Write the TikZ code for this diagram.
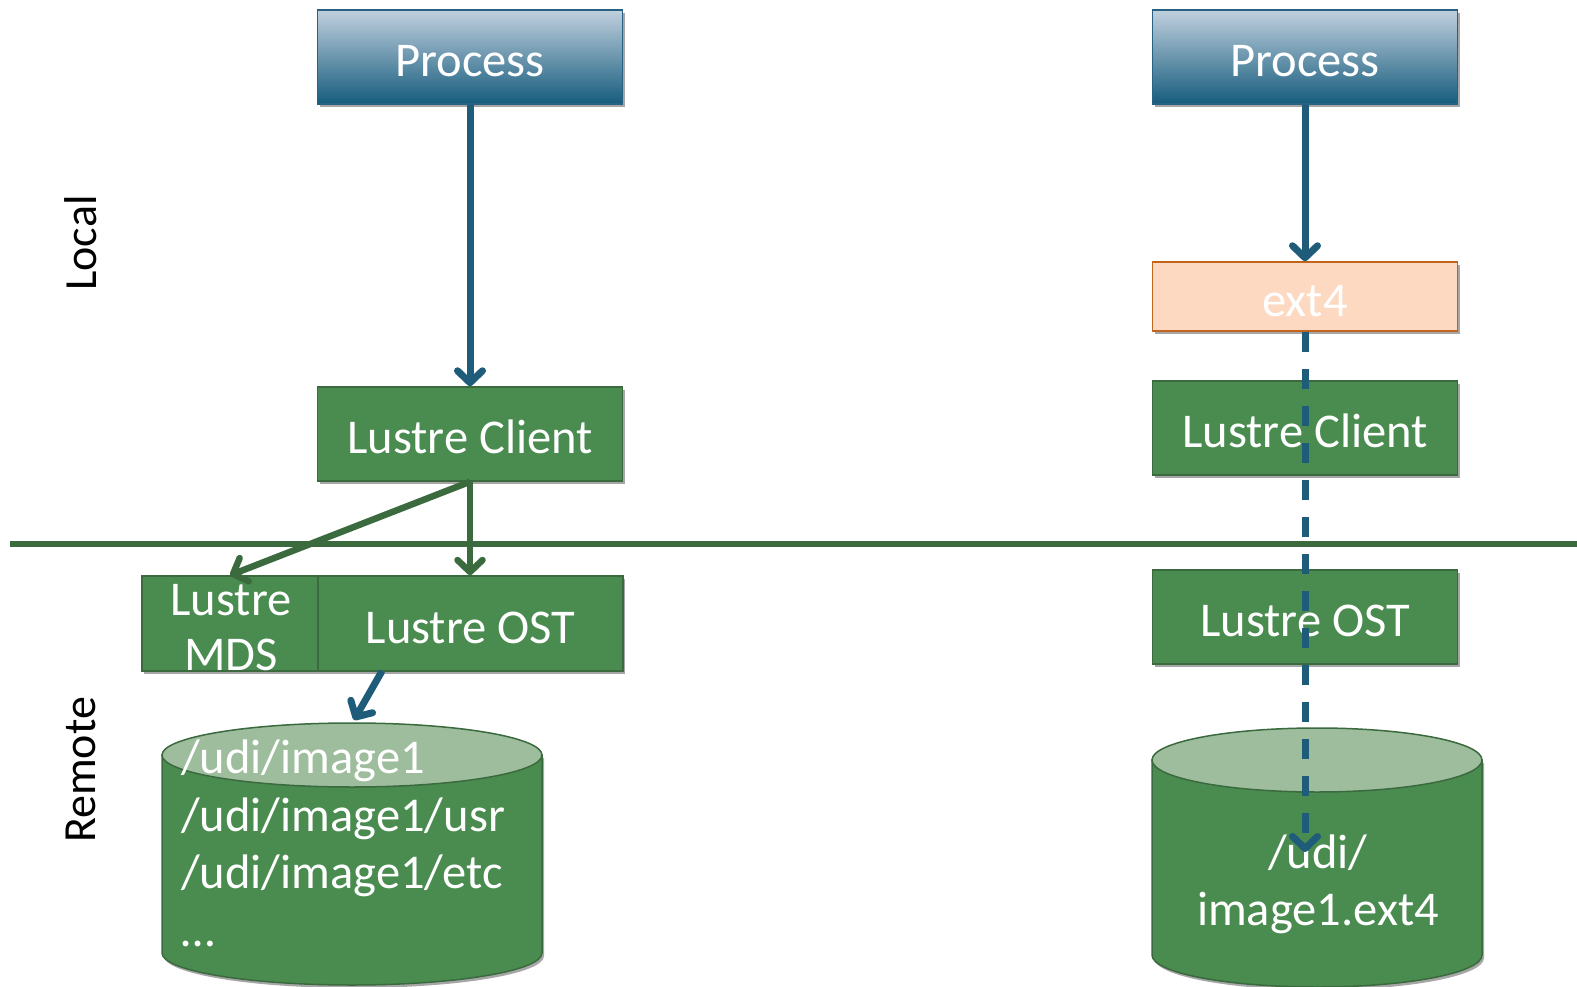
\documentclass[tikz,border=0pt]{standalone}
\usepackage{fontspec}
\setmainfont{Carlito}
\usetikzlibrary{arrows.meta,shadows}
\definecolor{procedge}{RGB}{40,98,130}
\definecolor{proctop}{RGB}{192,208,222}
\definecolor{procbot}{RGB}{22,92,125}
\definecolor{boxgreen}{RGB}{74,140,80}
\definecolor{greenedge}{RGB}{58,106,62}
\definecolor{lightgreen}{RGB}{157,189,157}
\definecolor{peach}{RGB}{253,217,193}
\definecolor{peachedge}{RGB}{192,100,30}
\definecolor{arrowblue}{RGB}{30,92,122}
\begin{document}
\begin{tikzpicture}[x=1pt,y=-1pt,
  shad/.style={drop shadow={shadow xshift=2pt,shadow yshift=-3pt,opacity=0.35,fill=black}},
  bigfont/.style={font=\fontsize{48.5}{58}\selectfont},
  boxtext/.style={bigfont,text height=39pt,text depth=0pt,inner sep=0pt,text=white},
  procbox/.style={shad,draw=procedge,line width=1.5pt,top color=proctop,bottom color=procbot,
    minimum width=305pt,minimum height=94pt,boxtext},
  greenbox/.style={shad,draw=greenedge,line width=1.5pt,fill=boxgreen,
    minimum width=305pt,minimum height=94pt,boxtext},
  peachbox/.style={shad,draw=peachedge,line width=1.5pt,fill=peach,
    minimum width=305pt,minimum height=69pt,boxtext},
  lbl/.style={text=white,bigfont,inner sep=0pt},
  side/.style={text=black,font=\fontsize{46}{56}\selectfont,rotate=90,inner sep=0pt},
  tip/.style={-{Straight Barb[length=12pt,width=25pt,round]}},
  bluearrow/.style={tip,draw=arrowblue,line width=7pt},
  greenarrow/.style={tip,draw=greenedge,line width=6.5pt},
  dasharrow/.style={tip,draw=arrowblue,line width=7pt,dash pattern=on 20pt off 17pt},
  cylbody/.style={fill=boxgreen,draw=greenedge,line width=1.5pt,shad},
  cyltop/.style={fill=lightgreen,draw=greenedge,line width=1.5pt}
]
\useasboundingbox (0,0) rectangle (1577,987);

% separator line
\coordinate (hl) at (10,544);
\coordinate (hr) at (1577,544);
\draw[greenedge,line width=6pt] (hl) -- (hr);

% side labels
\node[side] (local) at (81,243) {Local};
\node[side] (remote) at (81,770) {Remote};

% left column
\node[procbox] (p1) at (470,57) {Process};
\node[greenbox] (lc1) at (470,434) {Lustre Client};
\node[greenbox,minimum width=176pt,minimum height=95pt] (mds) at (230,623.5) {};
\node[lbl,align=center,font=\fontsize{48.5}{55}\selectfont] (mdst) at (231,628) {Lustre\\MDS};
\node[greenbox,minimum width=305pt,minimum height=95pt] (ost1) at (470.5,623.5) {Lustre OST};

% left cylinder
\path[cylbody] (162,755) -- (162,953) arc[start angle=180,end angle=360,x radius=190pt,y radius=32pt] -- (542,755) -- cycle;
\path[cyltop] (352,755) ellipse [x radius=190pt,y radius=32pt];
\node[lbl,align=left,anchor=north west,font=\fontsize{48.5}{57.5}\selectfont] (cyl1t) at (181,740)
  {/udi/image1\\/udi/image1/usr\\/udi/image1/etc\\\dots};

% right column
\node[procbox] (p2) at (1305,57) {Process};
\node[peachbox] (ext) at (1305,296.5) {ext4};
\node[greenbox] (lc2) at (1305,428) {Lustre Client};
\node[greenbox] (ost2) at (1305,617) {Lustre OST};

% right cylinder
\path[cylbody] (1152,760) -- (1152,955) arc[start angle=180,end angle=360,x radius=165pt,y radius=32pt] -- (1482,760) -- cycle;
\path[cyltop] (1317,760) ellipse [x radius=165pt,y radius=32pt];
\node[lbl,align=center,font=\fontsize{48.5}{57}\selectfont] (cyl2t) at (1318,884) {/udi/\\image1.ext4};

% connectors
\coordinate (ost1out) at (382,671);
\coordinate (cyl1in) at (354,720);
\coordinate (cyl2in) at (1305,852);
\draw[bluearrow] (p1.south) -- (lc1.north);
\draw[greenarrow] (lc1.south) -- (mds.north);
\draw[greenarrow] (lc1.south) -- (lc1.south |- ost1.north);
\draw[bluearrow] (ost1out) -- (cyl1in);
\draw[bluearrow] (p2.south) -- (ext.north);
\draw[dasharrow] (ext.south) -- (cyl2in);
\end{tikzpicture}
\end{document}
